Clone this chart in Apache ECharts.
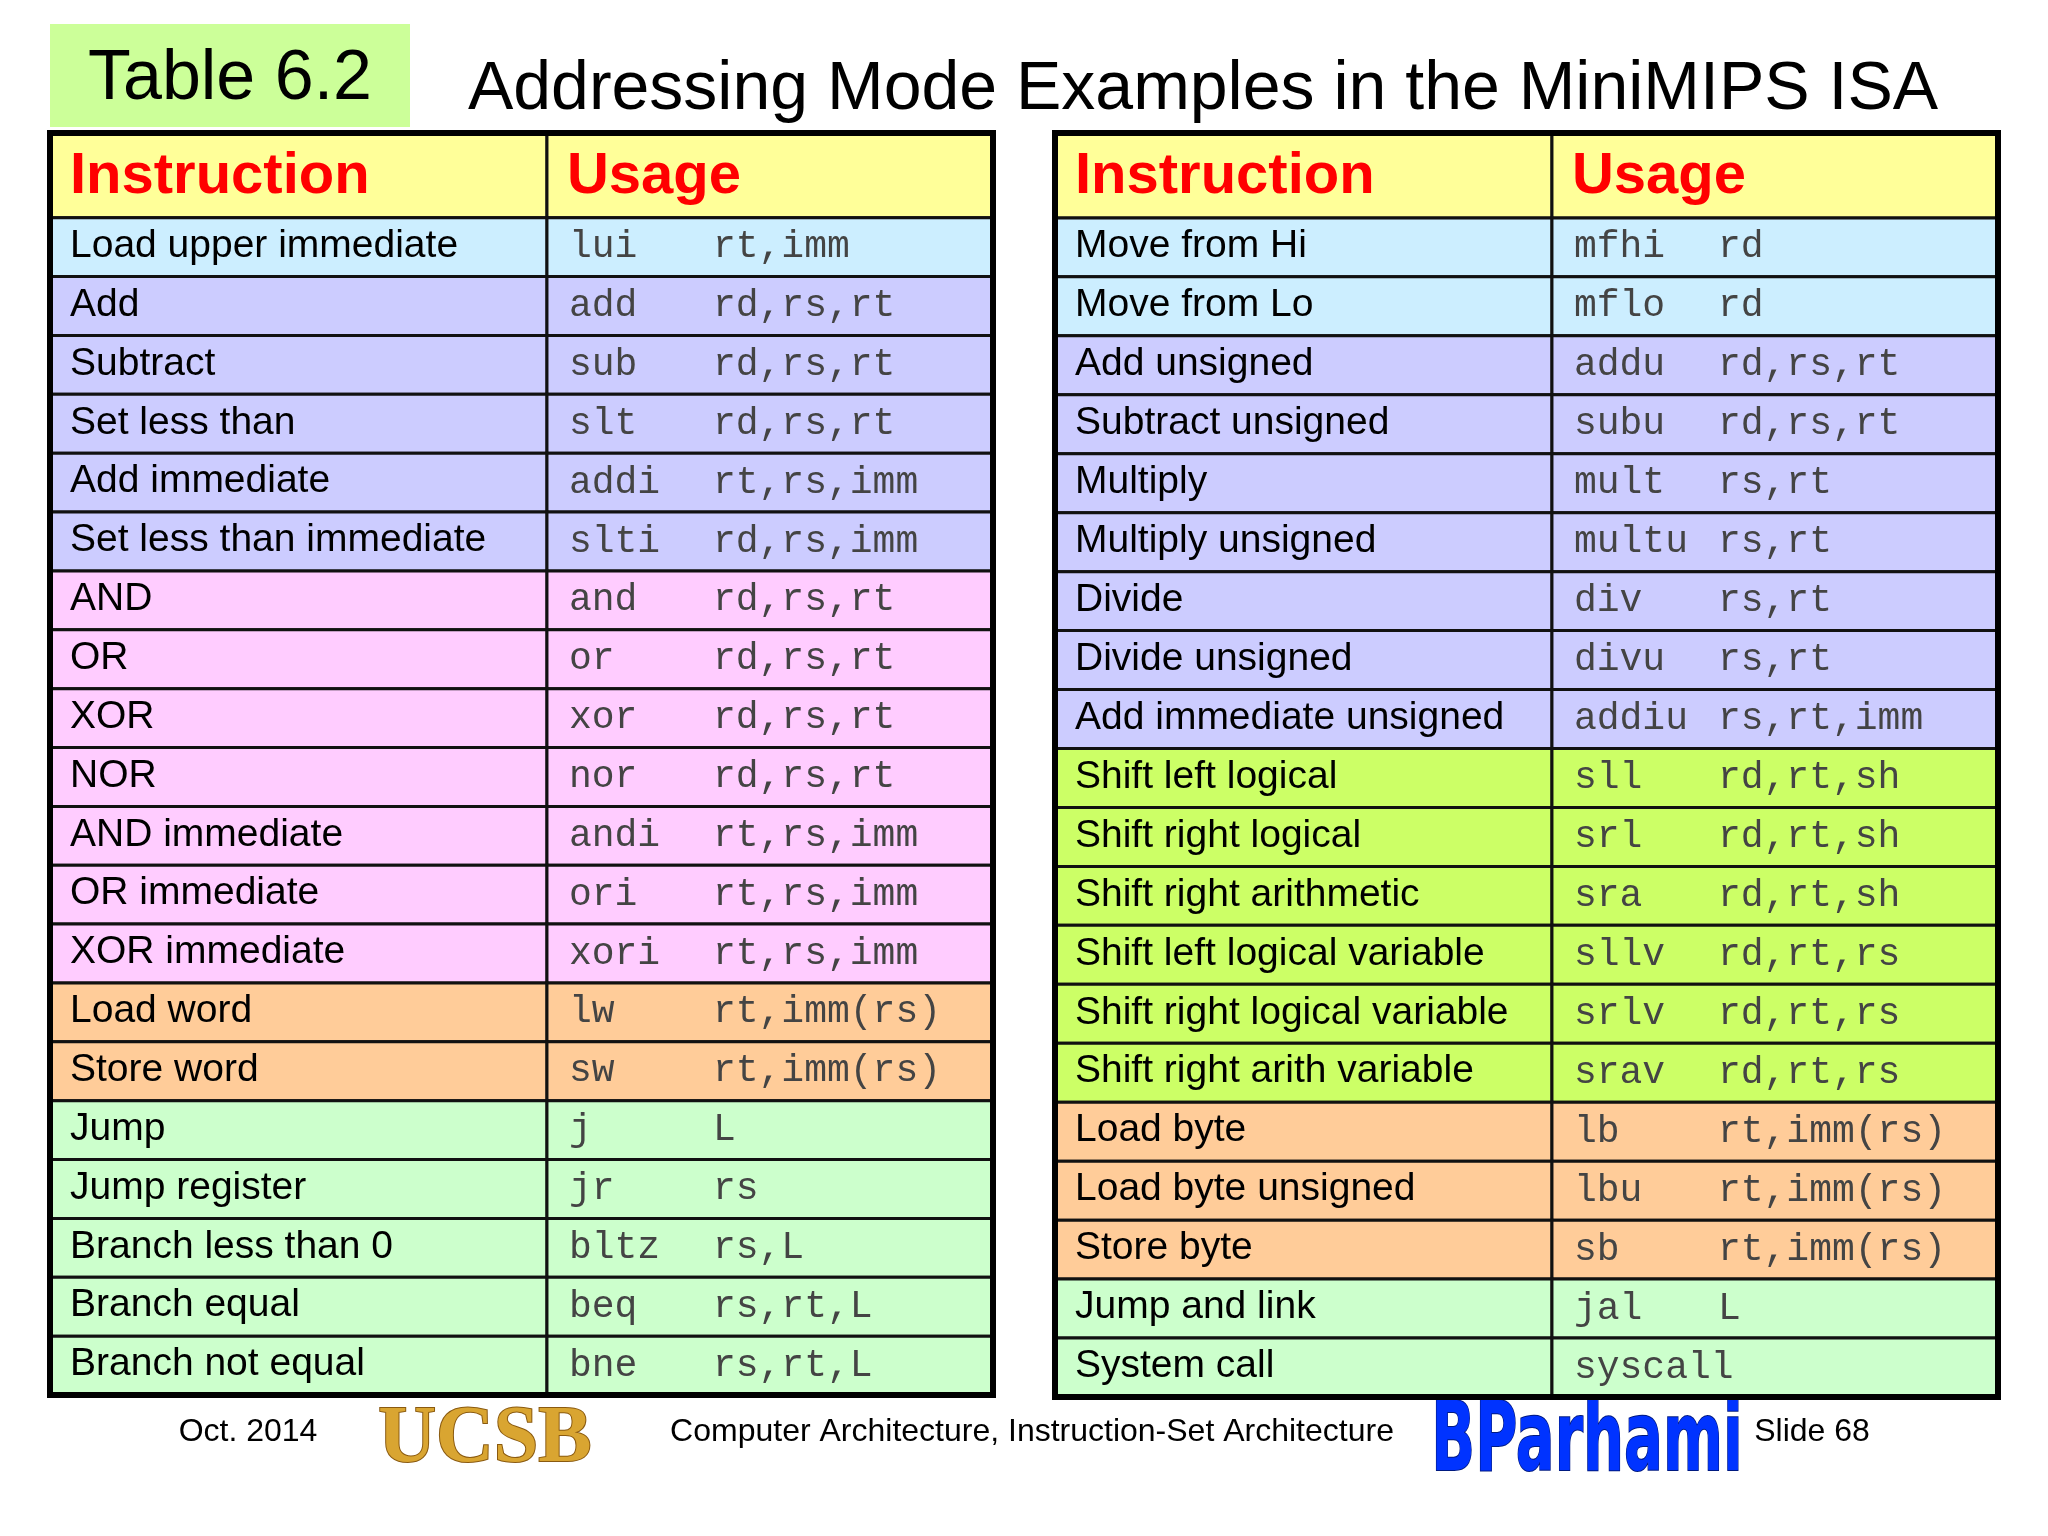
<!DOCTYPE html>
<html><head><meta charset="utf-8">
<script src="https://cdn.jsdelivr.net/npm/echarts@6/dist/echarts.min.js"></script>
<style>html,body{margin:0;background:#fff}#c{width:2048px;height:1536px}</style>
</head><body><div id="c"></div>
<script>
var headers = ['Instruction', 'Usage'];
var leftInstr = ['Load upper immediate','Add','Subtract','Set less than','Add immediate','Set less than immediate','AND','OR','XOR','NOR','AND immediate','OR immediate','XOR immediate','Load word','Store word','Jump','Jump register','Branch less than 0','Branch equal','Branch not equal'];
var leftOp = ['lui','add','sub','slt','addi','slti','and','or','xor','nor','andi','ori','xori','lw','sw','j','jr','bltz','beq','bne'];
var leftArgs = ['rt,imm','rd,rs,rt','rd,rs,rt','rd,rs,rt','rt,rs,imm','rd,rs,imm','rd,rs,rt','rd,rs,rt','rd,rs,rt','rd,rs,rt','rt,rs,imm','rt,rs,imm','rt,rs,imm','rt,imm(rs)','rt,imm(rs)','L','rs','rs,L','rs,rt,L','rs,rt,L'];
var leftGroup = ['blue','lav','lav','lav','lav','lav','pink','pink','pink','pink','pink','pink','pink','orange','orange','green','green','green','green','green'];
var rightInstr = ['Move from Hi','Move from Lo','Add unsigned','Subtract unsigned','Multiply','Multiply unsigned','Divide','Divide unsigned','Add immediate unsigned','Shift left logical','Shift right logical','Shift right arithmetic','Shift left logical variable','Shift right logical variable','Shift right arith variable','Load byte','Load byte unsigned','Store byte','Jump and link','System call'];
var rightOp = ['mfhi','mflo','addu','subu','mult','multu','div','divu','addiu','sll','srl','sra','sllv','srlv','srav','lb','lbu','sb','jal','syscall'];
var rightArgs = ['rd','rd','rd,rs,rt','rd,rs,rt','rs,rt','rs,rt','rs,rt','rs,rt','rs,rt,imm','rd,rt,sh','rd,rt,sh','rd,rt,sh','rd,rt,rs','rd,rt,rs','rd,rt,rs','rt,imm(rs)','rt,imm(rs)','rt,imm(rs)','L',''];
var rightGroup = ['blue','blue','lav','lav','lav','lav','lav','lav','lav','lime','lime','lime','lime','lime','lime','orange','orange','orange','green','green'];

var colors = {head:'#ffff99', blue:'#cceeff', lav:'#ccccff', pink:'#ffccff', orange:'#ffcc99', green:'#ccffcc', lime:'#ccff66'};
var SPLIT = 0.527, HEAD = 1.44;

function cells(instr, op, args, group) {
  var out = [];
  out.push([0, SPLIT, 0, HEAD, headers[0], '', 'head', 1]);
  out.push([SPLIT, 1, 0, HEAD, headers[1], '', 'head', 1]);
  for (var i = 0; i < instr.length; i++) {
    out.push([0, SPLIT, HEAD + i, HEAD + i + 1, instr[i], '', group[i], 0]);
    out.push([SPLIT, 1, HEAD + i, HEAD + i + 1, op[i], args[i], group[i], 2]);
  }
  return out;
}

var MONO = '38px "Liberation Mono", "Courier New", monospace';
function renderItem(params, api) {
  var p0 = api.coord([api.value(0), api.value(2)]);
  var p1 = api.coord([api.value(1), api.value(3)]);
  var kind = api.value(7);
  var txt = api.value(4), args = api.value(5);
  var cy = (p0[1] + p1[1]) / 2;
  var children = [{
    type: 'rect',
    shape: {x: p0[0], y: p0[1], width: p1[0] - p0[0], height: p1[1] - p0[1]},
    style: {fill: colors[api.value(6)], stroke: '#111', lineWidth: 3}
  }];
  if (kind === 1) {
    children.push({type: 'text', style: {x: p0[0] + 20, y: cy + 2, text: txt, fill: '#ff0000',
      font: 'bold 58px "Liberation Sans", Arial', textVerticalAlign: 'middle'}});
  } else if (kind === 0) {
    children.push({type: 'text', style: {x: p0[0] + 20, y: cy - 1, text: txt, fill: '#000',
      font: '39px "Liberation Sans", Arial', textVerticalAlign: 'middle'}});
  } else {
    children.push({type: 'text', style: {x: p0[0] + 22, y: cy, text: txt, fill: '#444', font: MONO, textVerticalAlign: 'middle'}});
    children.push({type: 'text', style: {x: p0[0] + 166, y: cy, text: args, fill: '#444', font: MONO, textVerticalAlign: 'middle'}});
  }
  return {type: 'group', children: children};
}

var chart = echarts.init(document.getElementById('c'));
var nRows = HEAD + leftInstr.length;
function ax(i, isX) {
  return isX ? {type: 'value', gridIndex: i, min: 0, max: 1, show: false}
             : {type: 'value', gridIndex: i, min: 0, max: nRows, inverse: true, show: false};
}
var footFont = '32px "Liberation Sans", Arial';
chart.setOption({
  animation: false,
  grid: [
    {left: 50, top: 133, width: 943, height: 1262, show: true, borderColor: '#000', borderWidth: 6, backgroundColor: 'transparent', z: 5},
    {left: 1055, top: 133, width: 943, height: 1264, show: true, borderColor: '#000', borderWidth: 6, backgroundColor: 'transparent', z: 5}
  ],
  xAxis: [ax(0, true), ax(1, true)],
  yAxis: [ax(0, false), ax(1, false)],
  graphic: [
    {type: 'rect', shape: {x: 50, y: 24, width: 360, height: 103}, style: {fill: '#ccff99'}},
    {type: 'text', style: {x: 230, y: 80, text: 'Table 6.2', font: '70px "Liberation Sans", Arial', fill: '#000', textAlign: 'center', textVerticalAlign: 'middle'}},
    {type: 'text', style: {x: 1203, y: 90, text: 'Addressing Mode Examples in the MiniMIPS ISA', font: '68px "Liberation Sans", Arial', fill: '#000', textAlign: 'center', textVerticalAlign: 'middle'}},
    {type: 'text', style: {x: 248, y: 1432, text: 'Oct. 2014', font: footFont, fill: '#000', textAlign: 'center', textVerticalAlign: 'middle'}},
    {type: 'text', style: {x: 485, y: 1440, text: 'UCSB', font: 'bold 80px "Liberation Serif", serif', fill: '#d9a531', stroke: '#8a5a10', lineWidth: 2, textAlign: 'center', textVerticalAlign: 'middle'}},
    {type: 'text', style: {x: 1032, y: 1432, text: 'Computer Architecture, Instruction-Set Architecture', font: footFont, fill: '#000', textAlign: 'center', textVerticalAlign: 'middle'}},
    {type: 'text', x: 1587, y: 1445, scaleX: 0.6,
      style: {x: 0, y: 0, text: 'BParhami', font: 'bold 96px "DejaVu Sans", sans-serif', fill: '#0033ff', stroke: '#001a80', lineWidth: 2, textAlign: 'center', textVerticalAlign: 'middle'}},
    {type: 'text', style: {x: 1812, y: 1432, text: 'Slide 68', font: footFont, fill: '#000', textAlign: 'center', textVerticalAlign: 'middle'}}
  ],
  series: [
    {type: 'custom', xAxisIndex: 0, yAxisIndex: 0, renderItem: renderItem, data: cells(leftInstr, leftOp, leftArgs, leftGroup)},
    {type: 'custom', xAxisIndex: 1, yAxisIndex: 1, renderItem: renderItem, data: cells(rightInstr, rightOp, rightArgs, rightGroup)}
  ]
});
</script></body></html>
